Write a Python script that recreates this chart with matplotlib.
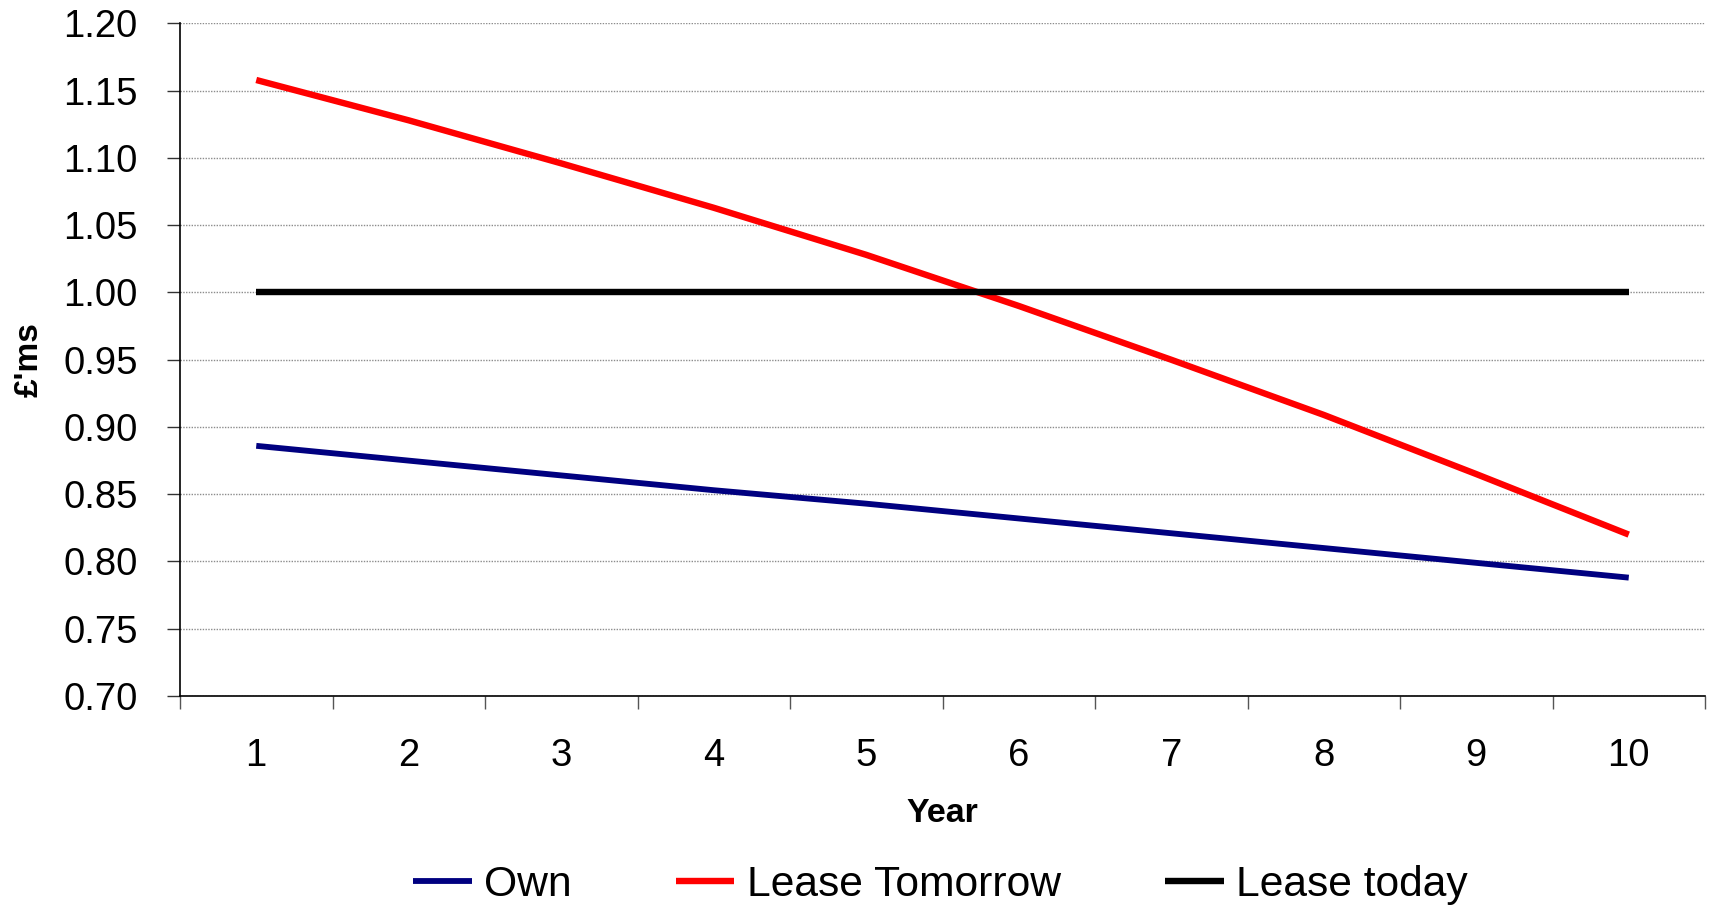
import numpy as np
import matplotlib
matplotlib.use('Agg')
import matplotlib.pyplot as plt
from matplotlib.ticker import FixedLocator, FuncFormatter

years = [1, 2, 3, 4, 5, 6, 7, 8, 9, 10]
own = [0.886, 0.875, 0.864, 0.853, 0.843, 0.832, 0.821, 0.810, 0.799, 0.788]
lease_tomorrow = [1.158, 1.128, 1.096, 1.063, 1.028, 0.990, 0.950, 0.909, 0.865, 0.820]
lease_today = [1.00, 1.00, 1.00, 1.00, 1.00, 1.00, 1.00, 1.00, 1.00, 1.00]
y_ticks = [0.70, 0.75, 0.80, 0.85, 0.90, 0.95, 1.00, 1.05, 1.10, 1.15, 1.20]

matplotlib.rcParams['font.family'] = ['Liberation Sans', 'DejaVu Sans']

fig = plt.figure(figsize=(17.1, 9.05), dpi=100)
ax = fig.add_axes([180 / 1710, 1 - 696 / 905, 1525 / 1710, 672.5 / 905])

ax.plot(years, own, color='#000080', lw=4.2, label='Own', solid_capstyle='butt')
ax.plot(years, lease_tomorrow, color='#ff0000', lw=4.6, label='Lease Tomorrow', solid_capstyle='butt')
ax.plot(years, lease_today, color='black', lw=4.6, label='Lease today', solid_capstyle='butt')

ax.set_xlim(0.5, 10.5)
ax.set_ylim(0.70, 1.20)
ax.set_yticks(y_ticks)
ax.yaxis.set_major_formatter(FuncFormatter(lambda v, p: '%.2f' % v))
ax.grid(axis='y', color='#8c8c8c', lw=1.0, linestyle=(0, (1, 1)))
ax.set_axisbelow(True)

# category labels in the middle, tick marks on the boundaries
ax.set_xticks(years)
ax.xaxis.set_minor_locator(FixedLocator(np.arange(0.5, 11, 1.0)))
ax.tick_params(axis='x', which='major', length=0, pad=30, labelsize=27.5)
ax.tick_params(axis='x', which='minor', length=9.5, width=1, color='#555555', direction='out')
ax.tick_params(axis='y', length=9.5, width=1, color='#333333', pad=21, labelsize=27.5)

for s in ['top', 'right']:
    ax.spines[s].set_visible(False)
ax.spines['left'].set_linewidth(1.2)
ax.spines['bottom'].set_linewidth(1.2)

ax.set_xlabel('Year', fontsize=24.5, fontweight='bold')
ax.xaxis.set_label_coords(0.5, -0.152)
ax.set_ylabel("£'ms", fontsize=24, fontweight='bold')
ax.yaxis.set_label_coords(-0.089, 0.50)

fig.legend(loc='center', bbox_to_anchor=(0.55, 0.022), ncol=3, frameon=False,
           fontsize=30.7, handlelength=1.37, handletextpad=0.29, columnspacing=2.45,
           borderpad=0, borderaxespad=0)

fig.savefig('out.png', dpi=100)
